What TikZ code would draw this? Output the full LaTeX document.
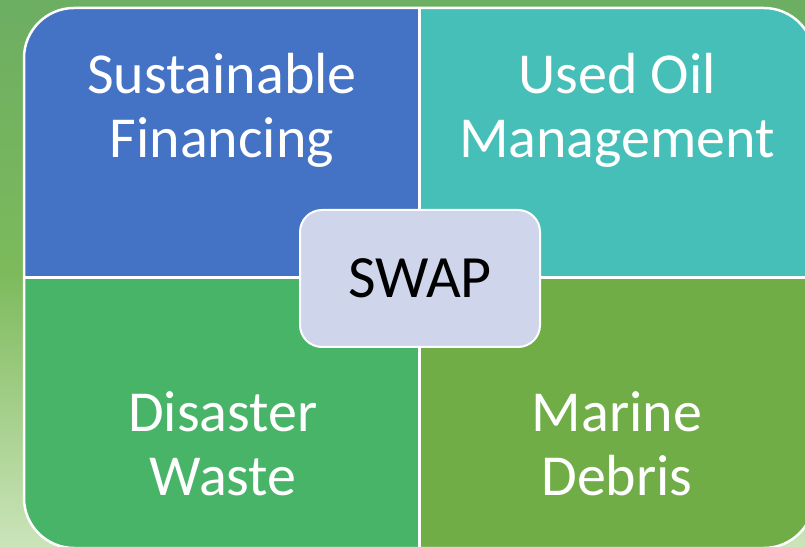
\documentclass[tikz,border=0pt]{standalone}
\usepackage{fontspec}
\setmainfont{Carlito}
\definecolor{qblue}{HTML}{4472C4}
\definecolor{qteal}{HTML}{45BFB7}
\definecolor{qgreen}{HTML}{48B467}
\definecolor{qlime}{HTML}{70AD47}
\definecolor{swapfill}{HTML}{CFD5EA}
\definecolor{bgtop}{HTML}{6CAE62}
\definecolor{bgmid}{HTML}{7DBA5C}
\definecolor{bgbot}{HTML}{CBE4B9}
\tikzset{
  quadtext/.style={text=white, align=center, font=\fontsize{58}{64}\selectfont, inner sep=0pt},
  swapbox/.style={draw=white, line width=2pt, fill=swapfill, rounded corners=22pt,
    minimum width=240pt, minimum height=137pt, font=\fontsize{60}{66}\selectfont, text=black},
  divider/.style={white, line width=3pt}
}
\begin{document}
\begin{tikzpicture}[x=1pt,y=1pt]
\useasboundingbox (0,0) rectangle (805,546);
% background
\shade[top color=bgtop, bottom color=bgbot, middle color=bgmid] (0,0) rectangle (805,546);
% quadrants
\begin{scope}
\clip[rounded corners=50pt] (24,-2) rectangle (814,538);
\fill[qblue] (24,268) rectangle (419,538);
\fill[qteal] (419,268) rectangle (814,538);
\fill[qgreen] (24,-2) rectangle (419,268);
\fill[qlime] (419,-2) rectangle (814,268);
\draw[divider] (419,-2) -- (419,538);
\draw[divider] (24,268) -- (814,268);
\end{scope}
\draw[white, line width=2.5pt, rounded corners=50pt] (24,-2) rectangle (814,538);
% texts
\node[quadtext] (sf) at (222,436) {Sustainable\\Financing};
\node[quadtext] (uo) at (617,436) {Used Oil\\Management};
\node[quadtext] (dw) at (223,102) {Disaster\\Waste};
\node[quadtext] (md) at (617,102) {Marine\\Debris};
% centre
\node[swapbox] (swap) at (420,267.5) {SWAP};
\end{tikzpicture}
\end{document}
